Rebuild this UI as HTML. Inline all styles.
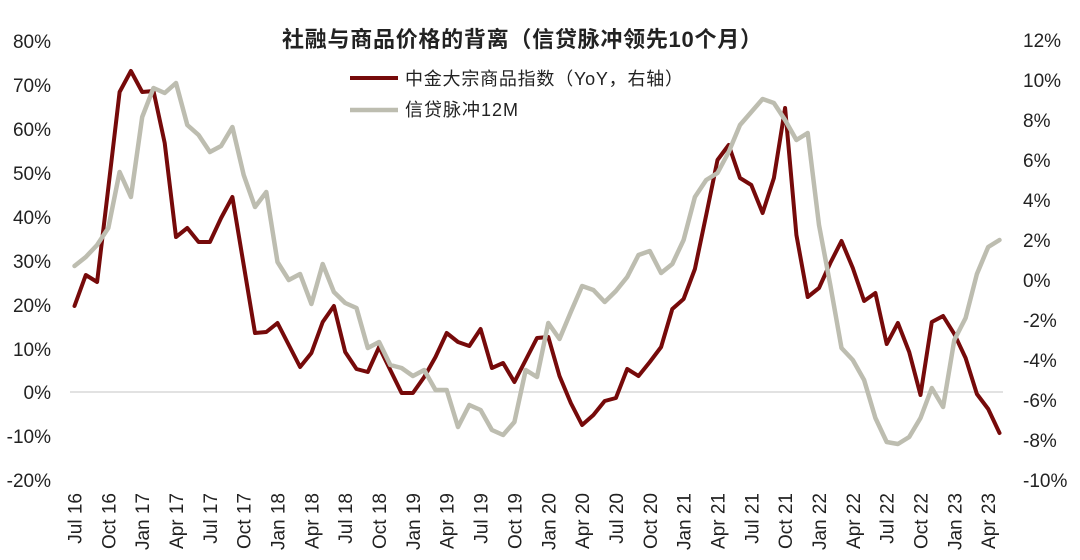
<!DOCTYPE html>
<html>
<head>
<meta charset="utf-8">
<style>
html,body{margin:0;padding:0;background:#fff;}
svg{display:block;}
text{font-family:"Liberation Sans","Noto Sans CJK SC",sans-serif;fill:#222;}
</style>
</head>
<body>
<svg width="1080" height="560" viewBox="0 0 1080 560" xmlns="http://www.w3.org/2000/svg">
<rect width="1080" height="560" fill="#fff"/>
<!-- title -->
<text x="282" y="47" font-size="22" font-weight="bold" textLength="480" lengthAdjust="spacing" style="font-family:'Liberation Sans','Noto Sans CJK SC',sans-serif;">社融与商品价格的背离（信贷脉冲领先10个月）</text>
<!-- legend -->
<line x1="350" y1="78" x2="398" y2="78" stroke="#760a0a" stroke-width="4"/>
<text x="405" y="85" font-size="18" textLength="278" lengthAdjust="spacing">中金大宗商品指数（YoY，右轴）</text>
<line x1="350" y1="110" x2="398" y2="110" stroke="#bdbdb0" stroke-width="4.5"/>
<text x="405" y="116" font-size="18" textLength="113" lengthAdjust="spacing">信贷脉冲12M</text>
<!-- zero line -->
<line x1="70" y1="392" x2="1003" y2="392" stroke="#d9d9d9" stroke-width="1.5"/>
<!-- left axis labels -->
<g font-size="19" text-anchor="end">
<text x="51" y="48">80%</text>
<text x="51" y="92">70%</text>
<text x="51" y="136">60%</text>
<text x="51" y="180">50%</text>
<text x="51" y="224">40%</text>
<text x="51" y="268">30%</text>
<text x="51" y="312">20%</text>
<text x="51" y="356">10%</text>
<text x="51" y="399">0%</text>
<text x="51" y="443">-10%</text>
<text x="51" y="487">-20%</text>
</g>
<!-- right axis labels -->
<g font-size="19" text-anchor="start">
<text x="1023" y="47">12%</text>
<text x="1023" y="87">10%</text>
<text x="1023" y="127">8%</text>
<text x="1023" y="167">6%</text>
<text x="1023" y="207">4%</text>
<text x="1023" y="247">2%</text>
<text x="1023" y="287">0%</text>
<text x="1023" y="327">-2%</text>
<text x="1023" y="367">-4%</text>
<text x="1023" y="407">-6%</text>
<text x="1023" y="447">-8%</text>
<text x="1023" y="487">-10%</text>
</g>
<!-- x axis labels -->
<g font-size="19" text-anchor="end">
<text transform="translate(81.5,493) rotate(-90)">Jul 16</text>
<text transform="translate(115.3,493) rotate(-90)">Oct 16</text>
<text transform="translate(149.2,493) rotate(-90)">Jan 17</text>
<text transform="translate(183,493) rotate(-90)">Apr 17</text>
<text transform="translate(216.9,493) rotate(-90)">Jul 17</text>
<text transform="translate(250.7,493) rotate(-90)">Oct 17</text>
<text transform="translate(284.5,493) rotate(-90)">Jan 18</text>
<text transform="translate(318.4,493) rotate(-90)">Apr 18</text>
<text transform="translate(352.2,493) rotate(-90)">Jul 18</text>
<text transform="translate(386.1,493) rotate(-90)">Oct 18</text>
<text transform="translate(419.9,493) rotate(-90)">Jan 19</text>
<text transform="translate(453.7,493) rotate(-90)">Apr 19</text>
<text transform="translate(487.6,493) rotate(-90)">Jul 19</text>
<text transform="translate(521.4,493) rotate(-90)">Oct 19</text>
<text transform="translate(555.3,493) rotate(-90)">Jan 20</text>
<text transform="translate(589.1,493) rotate(-90)">Apr 20</text>
<text transform="translate(622.9,493) rotate(-90)">Jul 20</text>
<text transform="translate(656.8,493) rotate(-90)">Oct 20</text>
<text transform="translate(690.6,493) rotate(-90)">Jan 21</text>
<text transform="translate(724.5,493) rotate(-90)">Apr 21</text>
<text transform="translate(758.3,493) rotate(-90)">Jul 21</text>
<text transform="translate(792.1,493) rotate(-90)">Oct 21</text>
<text transform="translate(826,493) rotate(-90)">Jan 22</text>
<text transform="translate(859.8,493) rotate(-90)">Apr 22</text>
<text transform="translate(893.7,493) rotate(-90)">Jul 22</text>
<text transform="translate(927.5,493) rotate(-90)">Oct 22</text>
<text transform="translate(961.3,493) rotate(-90)">Jan 23</text>
<text transform="translate(995.2,493) rotate(-90)">Apr 23</text>
</g>
<!-- red series -->
<polyline fill="none" stroke="#760a0a" stroke-width="4" stroke-linejoin="round" stroke-linecap="round" points="74.5,306 85.8,275 97.1,282 108.3,188 119.6,92 130.9,71 142.2,92 153.5,91 164.7,143 176,237 187.3,228 198.6,242 209.9,242 221.1,218 232.4,197 243.7,265 255,333 266.3,332 277.5,323 288.8,345 300.1,367 311.4,353 322.7,322 333.9,306 345.2,352 356.5,369 367.8,372 379.1,347 390.3,370 401.6,393 412.9,393 424.2,377 435.5,357 446.7,333 458,342 469.3,346 480.6,329 491.9,368 503.1,363 514.4,382 525.7,360 537,338 548.3,337 559.5,376 570.8,403 582.1,425 593.4,415 604.7,401 615.9,398 627.2,369 638.5,376 649.8,362 661.1,347 672.3,309 683.6,299 694.9,269 706.2,215 717.5,160 728.7,145 740,178 751.3,185 762.6,213 773.9,178 785.1,108 796.4,235 807.7,297 819,288 830.3,263 841.5,241 852.8,268 864.1,301 875.4,293 886.7,344 897.9,323 909.2,352 920.5,395 931.8,322 943.1,316 954.3,334 965.6,358 976.9,394 988.2,409 999.5,433"/>
<!-- gray series -->
<polyline fill="none" stroke="#bdbdb0" stroke-width="4.5" stroke-linejoin="round" stroke-linecap="round" points="74.5,266 85.8,257 97.1,245 108.3,228 119.6,172 130.9,197 142.2,117 153.5,88 164.7,93 176,83 187.3,125 198.6,135 209.9,152 221.1,146 232.4,127 243.7,175 255,207 266.3,192 277.5,262 288.8,280 300.1,274 311.4,304 322.7,264 333.9,292 345.2,303 356.5,308 367.8,348 379.1,342 390.3,365 401.6,368 412.9,376 424.2,370 435.5,390 446.7,390 458,427 469.3,405 480.6,410 491.9,430 503.1,435 514.4,422 525.7,370 537,377 548.3,323 559.5,339 570.8,312 582.1,286 593.4,290 604.7,302 615.9,291 627.2,277 638.5,255 649.8,251 661.1,273 672.3,264 683.6,240 694.9,197 706.2,180 717.5,173 728.7,152 740,125 751.3,112 762.6,99 773.9,103 785.1,120 796.4,140 807.7,133 819,225 830.3,285 841.5,348 852.8,360 864.1,380 875.4,418 886.7,442 897.9,444 909.2,437 920.5,418 931.8,388 943.1,407 954.3,340 965.6,318 976.9,274 988.2,247 999.5,240"/>
</svg>
</body>
</html>
